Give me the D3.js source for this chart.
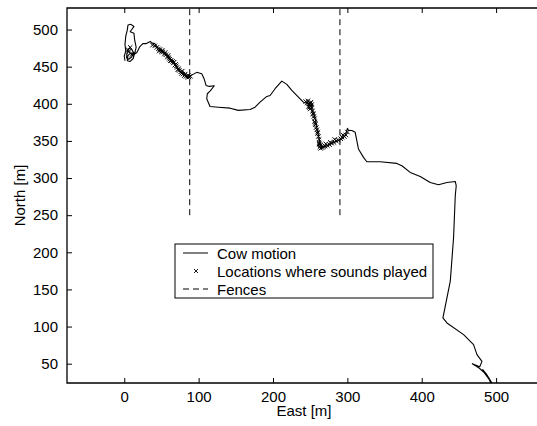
<!DOCTYPE html>
<html>
<head>
<meta charset="utf-8">
<script src="https://cdn.jsdelivr.net/npm/d3@7/dist/d3.min.js"></script>
<style>
  html, body { margin: 0; padding: 0; background: #fff; }
  svg { display: block; font-family: "Liberation Sans", Arial, Helvetica, sans-serif; }
</style>
</head>
<body>
<svg id="chart" width="537" height="426"></svg>
<script>
// ---- data (East [m], North [m]) ----
const cowEast = [1,0,2,1,2,4,5,9,13,10,8,13,14,16,14,12,8,4,5,9,13,11,7,4,3,6,10,12,14,17,21,25,29,33,35,37,41,
  45.8,52.5,59.2,65.9,70.5,75.4,82,86.1,90.7,97.4,99.6,104.2,107.3,110,114.4,121.1,115.3,111.7,110.9,115.3,
  126.5,142.3,153.4,169.2,175.9,182.6,191.7,196.1,202.8,211.8,218.6,225.3,234.2,240.9,247.6,249.9,
  254.4,256.7,258.9,261.1,263.4,265.7,272.4,279.1,285.9,292.6,297,300.1,301.5,306.1,310.5,314.9,
  321.7,326.2,344.1,366.6,373.3,384.5,398,411.4,422.6,433.9,445.1,446.4,445.1,442.8,438.4,428.5,
  433.9,456.3,469.7,474.3,481,478,468,474,480,476,484,490,495,487,482,489,493];
const cowNorth = [458,464,471,480,491,499,506,507,504,500,497,495,486,476,468,461,457,458,465,469,465,472,475,470,462,460,463,470,467,469,477,481,481,483,484,482,481,
  474.7,470.3,463.5,456.8,450,443.2,437.8,435.9,438.6,442.3,441.9,440.5,433.8,424.7,423.4,424.3,417,413.5,406.8,396.4,
  395.4,394.1,391.1,392.3,395.4,402.2,409.9,411.2,420.3,430.5,426.1,418,408.9,402.2,400,397.7,
  388.6,379.7,368.4,357.2,345.9,341.4,343.6,346.8,349.5,352.7,357.2,367,364,364,361.6,339.2,
  327.8,322,322,319.7,316.6,307.6,302.2,294.1,290.9,294.1,295.4,289.6,276.1,219.7,161.2,111.6,
  104.9,89.2,75.7,62.2,53.1,46,50,46,42,45,38,30,23,36,42,32,24];

const soundEast = [6,8,10,5,38,41,44,46,47,48,50,51,52,54,55,56,58,59,60,61,62,63,65,66,67,68,69,70,71,72,73,74,76,77,78,79,81,82,83,85,86,87,89,
  244,246,247,248,249,250,251,249,252,250,251,248,252,250,253,254,255,254,256,256,257,258,257,259,260,261,260,262,262,263,263,264,262,264,266,268,270,271,273,276,277,279,282,283,285,288,291,293,294,296,298,300];
const soundNorth = [470,476,466,473,479,478,476,474,471,473,470,472,470,467,469,466,463,465,462,460,458,458,457,455,456,452,453,451,449,446,447,445,443,441,444,440,438,440,437,436,438,436,437,
  403,401,404,400,398,401,397,395,399,393,402,396,395,400,390,387,383,386,380,376,372,368,374,365,360,356,362,352,348,345,342,344,346,340,341,342,343,346,344,345,348,347,348,352,350,351,353,355,358,356,358,362];

const fenceEast = [88, 290];
const fenceNorth = [250, 529];

const xTicks = [0, 100, 200, 300, 400, 500];
const yTicks = [50, 100, 150, 200, 250, 300, 350, 400, 450, 500];

const legendLabels = ["Cow motion", "Locations where sounds played", "Fences"];

// ---- drawing ----
(function () {
const svg = d3.select("#chart");
const L = 67, R = 537, T = 8, B = 383;
const x = d3.scaleLinear().domain([-77, 555]).range([L, R]);
const y = d3.scaleLinear().domain([24, 529]).range([B, T]);

svg.append("defs").append("clipPath").attr("id", "plotclip")
  .append("rect").attr("x", L).attr("y", T).attr("width", R - L).attr("height", B - T);

const plot = svg.append("g").attr("clip-path", "url(#plotclip)");

// fences
fenceEast.forEach(fx => {
  plot.append("line")
    .attr("x1", x(fx)).attr("x2", x(fx))
    .attr("y1", y(fenceNorth[0])).attr("y2", y(fenceNorth[1]))
    .attr("stroke", "#000").attr("stroke-width", 1)
    .attr("stroke-dasharray", "6,4");
});

// cow path
const pts = cowEast.map((e, i) => [e, cowNorth[i]]);
plot.append("path")
  .attr("d", d3.line().x(d => x(d[0])).y(d => y(d[1]))(pts))
  .attr("fill", "none").attr("stroke", "#000").attr("stroke-width", 1.1)
  .attr("stroke-linejoin", "round");

// sound markers
const s = 2.2;
plot.selectAll("path.mk").data(soundEast.map((e, i) => [e, soundNorth[i]]))
  .enter().append("path").attr("class", "mk")
  .attr("d", d => {
    const cx = x(d[0]), cy = y(d[1]);
    return `M${cx - s},${cy - s}L${cx + s},${cy + s}M${cx - s},${cy + s}L${cx + s},${cy - s}`;
  })
  .attr("stroke", "#000").attr("stroke-width", 1).attr("fill", "none");

// axes
const fontSize = 15;
const xAxisB = d3.axisBottom(x).tickValues(xTicks).tickSize(-5).tickPadding(8).tickFormat(d3.format("d"));
const xAxisT = d3.axisTop(x).tickValues(xTicks).tickSize(-5).tickFormat("");
const yAxisL = d3.axisLeft(y).tickValues(yTicks).tickSize(-5).tickPadding(9).tickFormat(d3.format("d"));

function style(g) {
  g.select(".domain").remove();
  g.selectAll(".tick line").attr("stroke", "#000").attr("stroke-width", 1);
  g.selectAll(".tick text").attr("fill", "#000").style("font-size", fontSize + "px")
    .style("font-family", '"Liberation Sans", Arial, sans-serif');
}
svg.append("g").attr("transform", `translate(0,${B})`).call(xAxisB).call(style);
svg.append("g").attr("transform", `translate(0,${T})`).call(xAxisT).call(style);
svg.append("g").attr("transform", `translate(${L},0)`).call(yAxisL).call(style);

// frame lines
svg.append("path")
  .attr("d", `M${R},${T}H${L}V${B}H${R}`)
  .attr("fill", "none").attr("stroke", "#000").attr("stroke-width", 1.3);

// axis labels
svg.append("text").attr("x", (L + 541) / 2).attr("y", 416)
  .attr("text-anchor", "middle").style("font-size", fontSize + "px").text("East [m]");
svg.append("text").attr("transform", `translate(25,${(T + B) / 2}) rotate(-90)`)
  .attr("text-anchor", "middle").style("font-size", fontSize + "px").text("North [m]");

// legend
const lg = svg.append("g");
lg.append("rect").attr("x", 175).attr("y", 244).attr("width", 258).attr("height", 54)
  .attr("fill", "#fff").attr("stroke", "#000").attr("stroke-width", 1);
const rowY = [253, 271, 289];
lg.append("line").attr("x1", 183).attr("x2", 208).attr("y1", rowY[0]).attr("y2", rowY[0])
  .attr("stroke", "#000").attr("stroke-width", 1);
lg.append("path").attr("d", `M${196 - 2},${rowY[1] - 2}L${196 + 2},${rowY[1] + 2}M${196 - 2},${rowY[1] + 2}L${196 + 2},${rowY[1] - 2}`)
  .attr("stroke", "#000").attr("stroke-width", 0.9);
lg.append("line").attr("x1", 183).attr("x2", 208).attr("y1", rowY[2]).attr("y2", rowY[2])
  .attr("stroke", "#000").attr("stroke-width", 1).attr("stroke-dasharray", "6,4");
legendLabels.forEach((t, i) => {
  lg.append("text").attr("x", 217).attr("y", rowY[i] + 5.5)
    .style("font-size", fontSize + "px").text(t);
});
})();
</script>
</body>
</html>
